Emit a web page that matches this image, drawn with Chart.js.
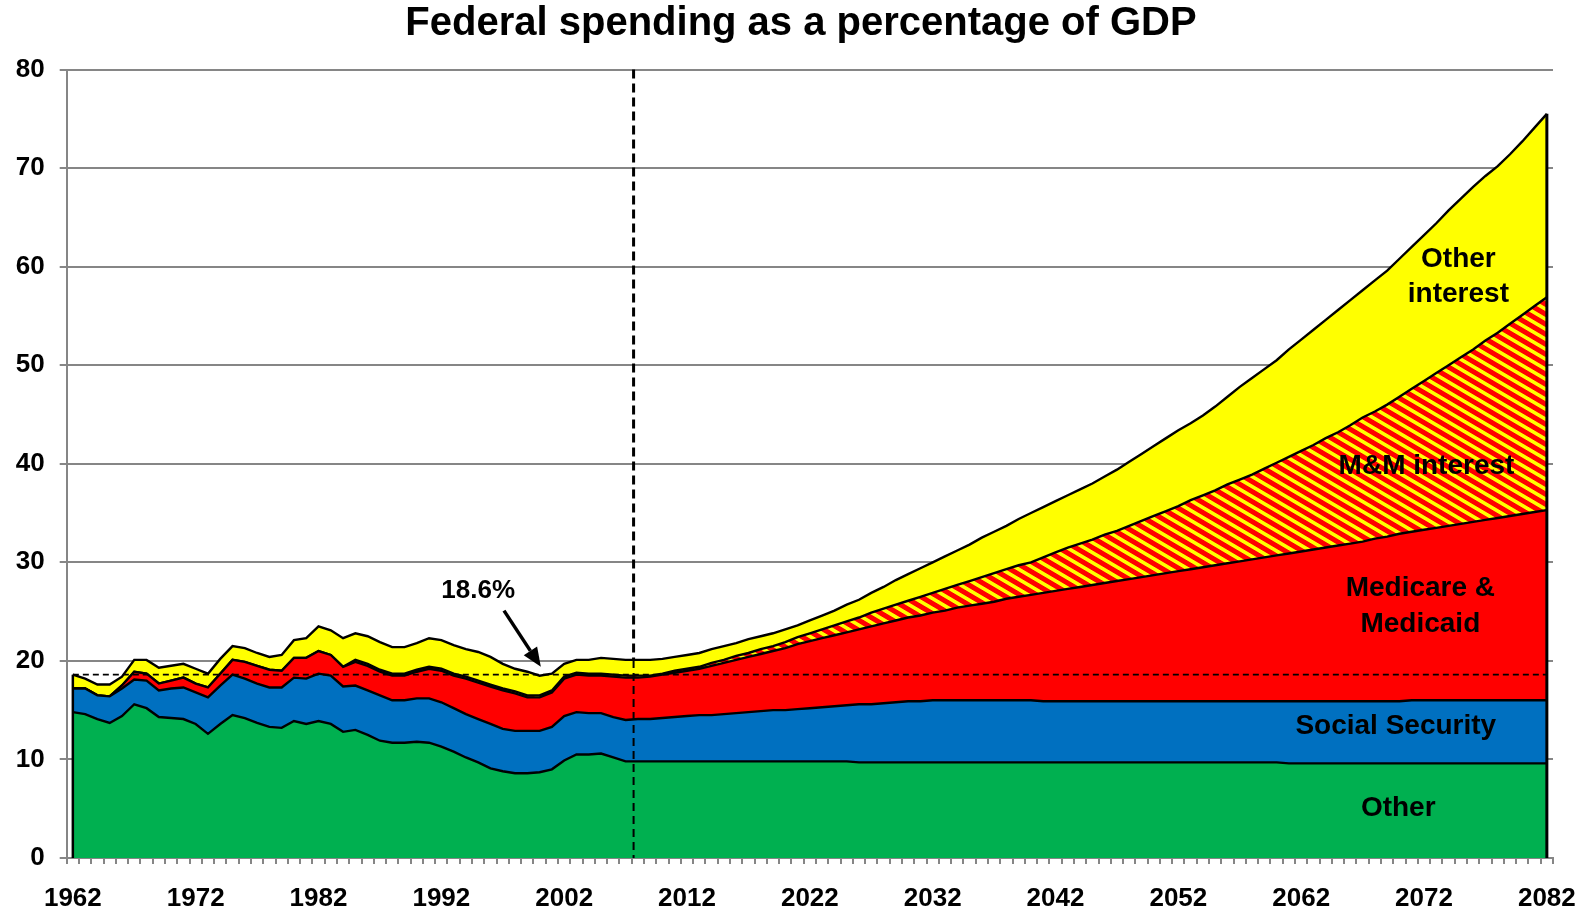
<!DOCTYPE html>
<html><head><meta charset="utf-8">
<script src="https://cdn.jsdelivr.net/npm/chart.js@4.4.1/dist/chart.umd.min.js"></script>
<style>html,body{margin:0;padding:0;background:#fff;overflow:hidden}</style>
</head><body>
<canvas id="c" width="1588" height="912" style="display:block;width:1588px;height:912px"></canvas>
<script>
const years = [1962,1963,1964,1965,1966,1967,1968,1969,1970,1971,1972,1973,1974,1975,1976,1977,1978,1979,1980,1981,
1982,1983,1984,1985,1986,1987,1988,1989,1990,1991,1992,1993,1994,1995,1996,1997,1998,1999,2000,2001,
2002,2003,2004,2005,2006,2007,2008,2009,2010,2011,2012,2013,2014,2015,2016,2017,2018,2019,2020,2021,
2022,2023,2024,2025,2026,2027,2028,2029,2030,2031,2032,2033,2034,2035,2036,2037,2038,2039,2040,2041,
2042,2043,2044,2045,2046,2047,2048,2049,2050,2051,2052,2053,2054,2055,2056,2057,2058,2059,2060,2061,
2062,2063,2064,2065,2066,2067,2068,2069,2070,2071,2072,2073,2074,2075,2076,2077,2078,2079,2080,2081,2082];
const tickYears = [1962,1972,1982,1992,2002,2012,2022,2032,2042,2052,2062,2072,2082];

const other = [14.8,14.6,14.1,13.7,14.4,15.6,15.2,14.3,14.2,14.1,
13.6,12.6,13.6,14.5,14.2,13.7,13.3,13.2,13.9,13.6,
13.9,13.6,12.8,13.0,12.5,11.9,11.7,11.7,11.8,11.7,
11.3,10.8,10.2,9.7,9.1,8.8,8.6,8.6,8.7,9.0,
9.9,10.5,10.5,10.6,10.2,9.8,9.8,
9.8,9.8,9.8,9.8,9.8,9.8,9.8,9.8,9.8,9.8,9.8,9.8,9.8,9.8,9.8,9.8,9.8,
9.7,9.7,9.7,9.7,9.7,9.7,9.7,9.7,9.7,9.7,9.7,9.7,9.7,9.7,9.7,9.7,9.7,9.7,9.7,9.7,9.7,9.7,9.7,9.7,9.7,9.7,9.7,9.7,9.7,9.7,9.7,9.7,9.7,9.7,9.7,
9.6,9.6,9.6,9.6,9.6,9.6,9.6,9.6,9.6,9.6,9.6,9.6,9.6,9.6,9.6,9.6,9.6,9.6,9.6,9.6,9.6,9.6];

const socialSecurity = [2.4,2.6,2.4,2.7,2.8,2.5,2.8,2.7,3.0,3.2,
3.2,3.7,3.9,4.1,4.0,4.0,4.0,4.1,4.4,4.6,
4.8,4.9,4.6,4.5,4.5,4.6,4.3,4.3,4.4,4.5,
4.5,4.4,4.4,4.4,4.5,4.3,4.3,4.3,4.2,4.3,
4.5,4.3,4.2,4.1,4.1,4.2,4.3,
4.3,4.4,4.5,4.6,4.7,4.7,4.8,4.9,5.0,5.1,5.2,5.2,5.3,5.4,5.5,5.6,5.7,
5.9,5.9,6.0,6.1,6.2,6.2,
6.3,6.3,6.3,6.3,6.3,6.3,6.3,6.3,6.3,
6.2,6.2,6.2,6.2,6.2,6.2,6.2,6.2,6.2,6.2,6.2,6.2,6.2,6.2,6.2,6.2,6.2,6.2,6.2,6.2,
6.3,6.3,6.3,6.3,6.3,6.3,6.3,6.3,6.3,6.3,
6.4,6.4,6.4,6.4,6.4,6.4,6.4,6.4,6.4,6.4,6.4,6.4];

const medicareMedicaid = [0,0,0,0,0.3,0.8,0.7,0.7,0.8,1.0,
0.9,1.0,1.2,1.5,1.7,1.8,1.8,1.7,2.0,2.1,
2.3,2.1,2.0,2.4,2.5,2.4,2.5,2.5,2.7,3.0,
3.2,3.3,3.6,3.7,3.8,3.9,3.8,3.4,3.4,3.5,
3.8,3.8,3.8,3.8,4.1,4.3,4.2,
4.3,4.4,4.5,4.6,4.7,5.0,5.2,5.4,5.6,5.8,
6.0,6.3,6.6,6.8,7.0,7.2,7.4,7.6,7.9,8.1,
8.3,8.5,8.7,8.9,9.1,9.4,9.6,9.8,10.0,10.3,
10.5,10.7,11.0,11.2,11.4,11.6,11.8,12.0,12.2,12.4,
12.6,12.8,13.0,13.2,13.4,13.6,13.8,14.0,14.2,14.4,
14.6,14.8,15.0,15.2,15.4,15.6,15.8,16.0,16.2,16.5,
16.7,17.0,17.1,17.3,17.5,17.7,17.9,18.1,18.3,18.5,
18.7,18.9,19.1,19.3];

const mmInterest = [0,0,0,0,0,0,0,0,0,0,0,0,0,0,0,0,0,0,0,0,0,0,0,
0.2,0.2,0.2,0.2,0.2,0.2,0.2,0.2,0.2,0.2,0.2,0.2,0.2,0.2,0.2,0.2,0.2,0.2,0.2,0.2,0.2,0.2,0.2,0.2,
0.1,0.1,0.2,0.2,0.2,0.3,0.3,0.4,0.4,0.5,
0.5,0.6,0.7,0.8,0.9,1.0,1.1,1.2,1.4,1.5,
1.6,1.7,1.9,2.0,2.2,2.3,2.5,2.7,2.9,3.0,
3.2,3.3,3.6,3.9,4.2,4.4,4.6,4.9,5.1,5.4,
5.7,6.0,6.3,6.6,7.0,7.3,7.6,8.0,8.3,8.6,
9.0,9.4,9.8,10.2,10.6,11.1,11.5,12.0,12.6,12.9,
13.4,13.9,14.5,15.1,15.7,16.3,16.9,17.5,18.2,18.8,
19.5,20.2,20.9,21.6];

const otherInterest = [1.4,1.0,1.1,1.2,0.9,1.2,1.4,1.6,1.5,1.4,
1.5,1.4,1.5,1.4,1.4,1.3,1.3,1.6,1.8,2.0,
2.5,2.5,2.9,2.7,2.8,2.8,2.7,2.7,2.7,2.9,
2.9,2.9,2.8,2.9,2.8,2.5,2.3,2.4,2.0,1.7,
1.3,1.3,1.4,1.6,1.6,1.6,1.6,
1.6,1.5,1.4,1.4,1.4,1.4,1.4,1.3,1.4,1.3,
1.3,1.3,1.2,1.3,1.4,1.5,1.7,1.8,2.0,2.2,
2.5,2.7,2.9,3.1,3.3,3.5,3.7,4.0,4.2,4.4,
4.7,5.0,5.1,5.2,5.3,5.5,5.7,5.9,6.2,6.5,
6.8,7.1,7.4,7.7,7.8,8.1,8.5,8.9,9.4,9.8,
10.1,10.4,10.9,11.3,11.7,12.0,12.4,12.7,12.9,13.3,
13.6,14.0,14.4,14.8,15.2,15.7,16.1,16.5,16.7,16.9,
17.2,17.6,18.1,18.6];

const referenceLevel = 18.6;
const projectionStartYear = 2007.65;
const calloutText = '18.6%';
const calloutPos = [1995.0, 27.1];
const arrowFrom = [1997.1, 25.1];
const arrowTo = [2000.1, 19.4];
const regionLabels = [
  {lines:['Other'], year:2069.9, value:5.07},
  {lines:['Social Security'], year:2069.7, value:13.39},
  {lines:['Medicare &','Medicaid'], year:2071.7, value:25.54},
  {lines:['M&M interest'], year:2072.2, value:39.77},
  {lines:['Other','interest'], year:2074.8, value:58.95}
];

const FONT = "'Liberation Sans', Arial, Helvetica, sans-serif";
const GRID = '#868686';
const canvas = document.getElementById('c');
const mainCtx = canvas.getContext('2d');

function makeHatch(){
  const W = 17, H = 10, slope = H / W;
  const t = document.createElement('canvas');
  t.width = W; t.height = H;
  const c = t.getContext('2d');
  const img = c.createImageData(W, H);
  for (let y = 0; y < H; y++) for (let x = 0; x < W; x++) {
    const ph = ((((y + 0.5) - (x + 0.5) * slope) % H) + H) % H / H;
    const g = Math.cos(2 * Math.PI * ph);
    const w = Math.max(0, Math.min(1, (g + 0.05) * 1.7));
    const i = (y * W + x) * 4;
    img.data[i] = 255; img.data[i+1] = Math.round(255 * w); img.data[i+2] = 0; img.data[i+3] = 255;
  }
  c.putImageData(img, 0, 0);
  return mainCtx.createPattern(t, 'repeat');
}
const hatch = makeHatch();

function ds(label, data, color, fill){
  return {label, data, backgroundColor: color, borderColor: '#000', borderWidth: 2.4,
    fill, pointRadius: 0, pointHoverRadius: 0, tension: 0, yAxisID: 'y'};
}

function xPix(chart, year){ return chart.scales.x.getPixelForValue(year - years[0]); }
function yPix(chart, v){ return chart.scales.y.getPixelForValue(v); }

const overlay = {
  id: 'overlay',
  afterDatasetsDraw(chart){
    const ctx = chart.ctx;
    const n = years.length;
    const tot = i => other[i] + socialSecurity[i] + medicareMedicaid[i] + mmInterest[i] + otherInterest[i];
    ctx.save();
    ctx.strokeStyle = '#000';
    ctx.lineWidth = 2.5;
    ctx.beginPath();
    ctx.moveTo(xPix(chart, years[0]), yPix(chart, 0)); ctx.lineTo(xPix(chart, years[0]), yPix(chart, tot(0)));
    ctx.stroke();
    ctx.lineWidth = 3;
    ctx.beginPath();
    ctx.moveTo(xPix(chart, years[n-1]), yPix(chart, 0)); ctx.lineTo(xPix(chart, years[n-1]), yPix(chart, tot(n-1)));
    ctx.stroke();
    ctx.lineWidth = 1.6;
    ctx.setLineDash([6, 4]);
    ctx.beginPath();
    ctx.moveTo(xPix(chart, years[0]), yPix(chart, referenceLevel));
    ctx.lineTo(xPix(chart, years[n-1]), yPix(chart, referenceLevel));
    ctx.stroke();
    const vx = xPix(chart, projectionStartYear);
    const i2008 = years.indexOf(2008);
    ctx.lineWidth = 3;
    ctx.setLineDash([9, 5]);
    ctx.beginPath();
    ctx.moveTo(vx, chart.chartArea.top); ctx.lineTo(vx, yPix(chart, tot(i2008)));
    ctx.stroke();
    ctx.lineWidth = 2;
    ctx.setLineDash([8, 5]);
    ctx.beginPath();
    ctx.moveTo(vx, yPix(chart, tot(i2008))); ctx.lineTo(vx, yPix(chart, 0));
    ctx.stroke();
    ctx.setLineDash([]);
    const ax0 = xPix(chart, arrowFrom[0]), ay0 = yPix(chart, arrowFrom[1]);
    const ax1 = xPix(chart, arrowTo[0]), ay1 = yPix(chart, arrowTo[1]);
    const ang = Math.atan2(ay1 - ay0, ax1 - ax0);
    const hl = 19, hw = 8;
    const bx = ax1 - hl * Math.cos(ang), by = ay1 - hl * Math.sin(ang);
    ctx.lineWidth = 3.5;
    ctx.beginPath(); ctx.moveTo(ax0, ay0); ctx.lineTo(bx, by); ctx.stroke();
    ctx.fillStyle = '#000';
    ctx.beginPath();
    ctx.moveTo(ax1, ay1);
    ctx.lineTo(bx + hw * Math.sin(ang), by - hw * Math.cos(ang));
    ctx.lineTo(bx - hw * Math.sin(ang), by + hw * Math.cos(ang));
    ctx.closePath(); ctx.fill();
    ctx.textAlign = 'center';
    ctx.textBaseline = 'middle';
    ctx.fillStyle = '#000';
    ctx.font = 'bold 26px ' + FONT;
    ctx.fillText(calloutText, xPix(chart, calloutPos[0]), yPix(chart, calloutPos[1]));
    ctx.font = 'bold 28px ' + FONT;
    regionLabels.forEach(l => {
      const cx = xPix(chart, l.year), cy = yPix(chart, l.value);
      const gap = 35.5;
      l.lines.forEach((t, k) => {
        ctx.fillText(t, cx, cy + (k - (l.lines.length - 1) / 2) * gap);
      });
    });
    ctx.restore();
  }
};

new Chart(mainCtx, {
  type: 'line',
  data: {
    labels: years,
    datasets: [
      ds('Other', other, '#00B050', 'origin'),
      ds('Social Security', socialSecurity, '#0070C0', '-1'),
      ds('Medicare & Medicaid', medicareMedicaid, '#FF0000', '-1'),
      ds('M&M interest', mmInterest, hatch, '-1'),
      ds('Other interest', otherInterest, '#FFFF00', '-1')
    ]
  },
  options: {
    responsive: false, animation: false, devicePixelRatio: 1,
    layout: {padding: {left: 14, right: 0, top: 0, bottom: 0}},
    plugins: {
      legend: {display: false},
      tooltip: {enabled: false},
      title: {display: true, text: 'Federal spending as a percentage of GDP', color: '#000',
        font: {family: FONT, size: 40, weight: 'bold'}, padding: {top: 0, bottom: 21.5}}
    },
    scales: {
      x: {
        type: 'category', offset: true,
        grid: {offset: true, drawOnChartArea: false, drawTicks: true, tickLength: 6, color: GRID, lineWidth: 2},
        border: {display: true, color: GRID, width: 2},
        ticks: {autoSkip: false, maxRotation: 0, minRotation: 0, color: '#000', padding: 19,
          font: {family: FONT, size: 26, weight: 'bold'},
          callback: (v, i) => tickYears.includes(years[i]) ? String(years[i]) : ''},
        afterFit: s => { s.height = 54; s.paddingLeft = 0; s.paddingRight = 0; }
      },
      y: {
        position: 'left', stacked: true, min: 0, max: 80,
        ticks: {stepSize: 10, color: '#000', padding: 15, font: {family: FONT, size: 26, weight: 'bold'}},
        grid: {color: GRID, lineWidth: 2, tickLength: 7},
        border: {display: true, color: GRID, width: 2},
        afterFit: s => { s.width = 52.7; }
      },
      rightSpace: {
        type: 'linear', position: 'right', display: true,
        grid: {display: false, drawTicks: false}, border: {display: false}, ticks: {display: false},
        afterFit: s => { s.width = 35; }
      }
    }
  },
  plugins: [overlay]
});
</script>
</body></html>
